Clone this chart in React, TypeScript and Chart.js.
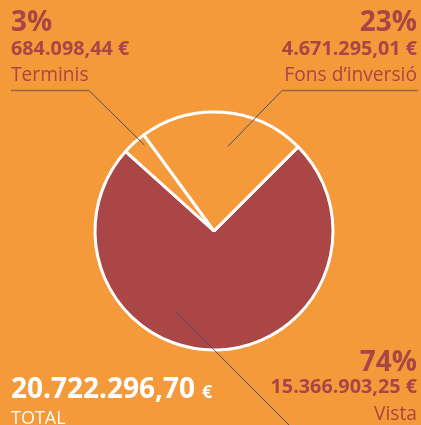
import React, { useEffect, useRef } from "react";
import { Chart, registerables } from "chart.js";

Chart.register(...registerables);

const categories = ["Vista", "Terminis", "Fons d\u2019inversió"];
const amounts = [15366903.25, 684098.44, 4671295.01];
const amountLabels = ["15.366.903,25 €", "684.098,44 €", "4.671.295,01 €"];
const percentLabels = ["74%", "3%", "23%"];
const totalLabel = "20.722.296,70";

const BG = "#F59A3A";
const RED = "#AA4645";
const TEXT = "#A84646";
const FONT = "'Open Sans', 'Noto Sans', sans-serif";

// leader geometry per slice: fraction along arc, fraction of radius, elbow point, horizontal end
const leaders = [
  { f: 0.6, r: 0.75, elbow: [300, 436], end: [421, 436] },
  { f: 0.76, r: 0.93, elbow: [89, 90.5], end: [11, 90.5] },
  { f: 0.56, r: 0.72, elbow: [282, 90.5], end: [418, 90.5] },
];

const leaderPlugin = {
  id: "leaders",
  afterDatasetsDraw(chart: any) {
    const meta = chart.getDatasetMeta(0);
    const ctx = chart.ctx;
    ctx.save();
    meta.data.forEach((arc: any, i: number) => {
      const L = leaders[i];
      const p = arc.getProps(["x", "y", "startAngle", "endAngle", "outerRadius"], true);
      const a = p.startAngle + L.f * (p.endAngle - p.startAngle);
      const ax = p.x + p.outerRadius * L.r * Math.cos(a);
      const ay = p.y + p.outerRadius * L.r * Math.sin(a);
      ctx.beginPath();
      ctx.strokeStyle = "#4A5068";
      ctx.lineWidth = 1;
      ctx.moveTo(ax, ay);
      ctx.lineTo(L.elbow[0], L.elbow[1]);
      ctx.stroke();
      ctx.beginPath();
      ctx.strokeStyle = "#8F6A4C";
      ctx.lineWidth = 1.5;
      ctx.moveTo(L.elbow[0], L.elbow[1]);
      ctx.lineTo(L.end[0], L.end[1]);
      ctx.stroke();
    });
    ctx.restore();
  },
};

const abs = (s: React.CSSProperties): React.CSSProperties => ({
  position: "absolute",
  whiteSpace: "nowrap",
  fontFamily: FONT,
  lineHeight: 1,
  margin: 0,
  ...s,
});

export default function App() {
  const ref = useRef<HTMLCanvasElement>(null);
  useEffect(() => {
    if (!ref.current) return;
    const chart = new Chart(ref.current, {
      type: "pie",
      data: {
        labels: categories,
        datasets: [
          {
            data: amounts,
            backgroundColor: [RED, BG, BG],
            borderColor: "#FFFFFF",
            borderWidth: 3,
          },
        ],
      },
      options: {
        animation: false,
        responsive: false,
        rotation: 45,
        radius: 119,
        layout: { padding: { left: 7, right: 0, top: 37, bottom: 0 } },
        plugins: { legend: { display: false }, tooltip: { enabled: false } },
      } as any,
      plugins: [leaderPlugin],
    });
    return () => chart.destroy();
  }, []);

  return (
    <div
      style={{
        position: "fixed",
        left: 0,
        top: 0,
        width: 421,
        height: 425,
        background: BG,
        overflow: "hidden",
      }}
    >
      <canvas ref={ref} width={421} height={425} style={{ position: "absolute", left: 0, top: 0 }} />
      {/* Terminis */}
      <div style={abs({ left: 11, top: 6, fontSize: 28, fontWeight: 700, color: TEXT })}>{percentLabels[1]}</div>
      <div style={abs({ left: 11, top: 38, fontSize: 19.8, fontWeight: 700, color: TEXT })}>{amountLabels[1]}</div>
      <div style={abs({ left: 11, top: 64, fontSize: 19.2, color: TEXT })}>{categories[1]}</div>
      {/* Fons */}
      <div style={abs({ right: 4, top: 6, fontSize: 28, fontWeight: 700, color: TEXT })}>{percentLabels[2]}</div>
      <div style={abs({ right: 4, top: 38, fontSize: 19.8, fontWeight: 700, color: TEXT })}>{amountLabels[2]}</div>
      <div style={abs({ right: 4, top: 64, fontSize: 19.2, color: TEXT })}>{categories[2]}</div>
      {/* Vista */}
      <div style={abs({ right: 4, top: 346, fontSize: 28, fontWeight: 700, color: TEXT })}>{percentLabels[0]}</div>
      <div style={abs({ right: 4, top: 376, fontSize: 19.8, fontWeight: 700, color: TEXT })}>{amountLabels[0]}</div>
      <div style={abs({ right: 4, top: 403, fontSize: 19.2, color: TEXT })}>{categories[0]}</div>
      {/* Total */}
      <div style={abs({ left: 11, top: 373, fontSize: 28, fontWeight: 700, color: "#FFFFFF" })}>
        {totalLabel}
        <span style={{ fontSize: 18, marginLeft: 7 }}>€</span>
      </div>
      <div style={abs({ left: 11, top: 408, fontSize: 18, color: "#FFFFFF" })}>TOTAL</div>
    </div>
  );
}
